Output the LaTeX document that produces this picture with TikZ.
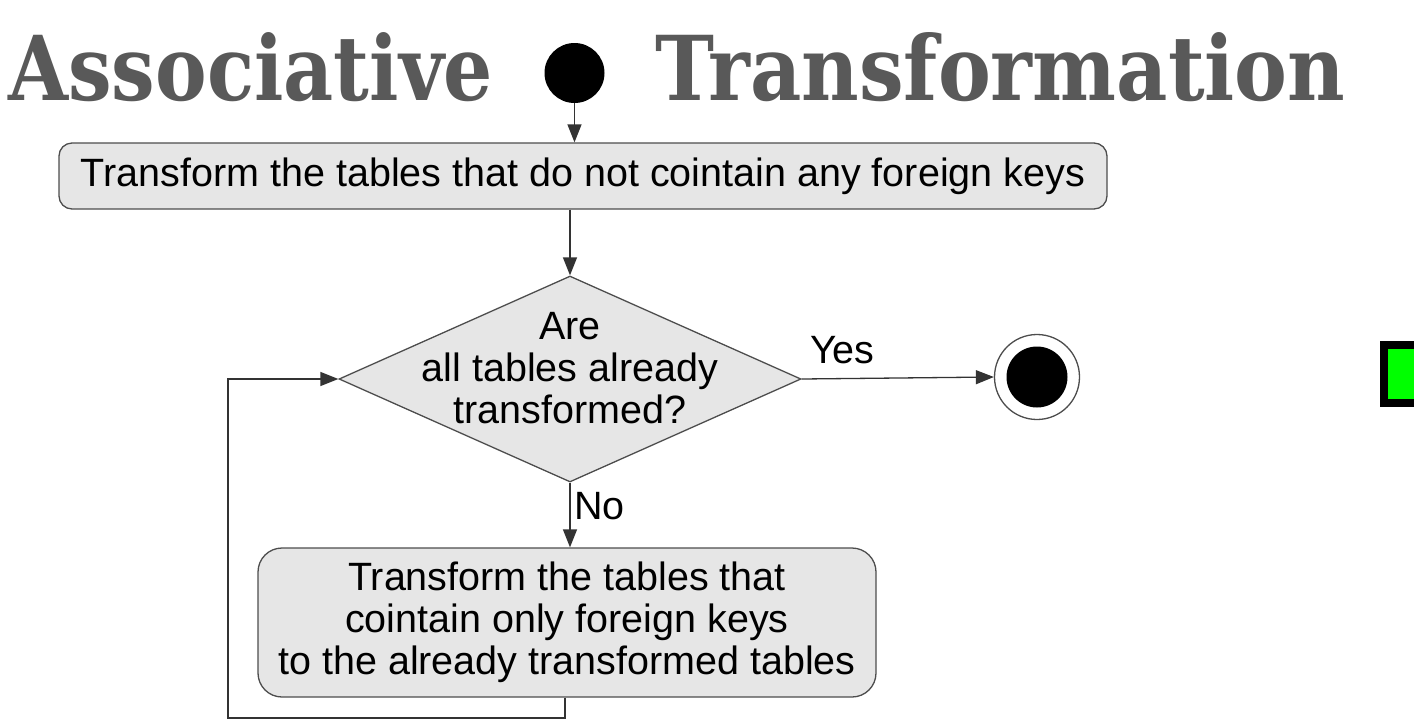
\documentclass[tikz,border=0pt]{standalone}
\usepackage{fontspec}
\setmainfont{Liberation Sans}
\newfontfamily\titlefont{DejaVu Serif}
\usetikzlibrary{shapes.geometric,arrows.meta}
\definecolor{boxfill}{HTML}{E6E6E6}
\definecolor{boxline}{HTML}{4D4D4D}
\definecolor{titlegray}{HTML}{595959}
\definecolor{brightgreen}{HTML}{00FF00}
\tikzset{
  actbox/.style={draw=boxline, fill=boxfill, line width=1.3pt, rounded corners=13pt, inner sep=0pt, align=center, font=\fontsize{39.5}{42}\selectfont},
  decbox/.style={draw=boxline, fill=boxfill, line width=1.3pt, diamond, inner sep=0pt, minimum width=462pt, minimum height=206pt},
  flow/.style={draw=black!80, line width=1.3pt, -{Triangle[length=18pt,width=14pt]}},
  lbl/.style={font=\fontsize{39.5}{42}\selectfont, inner sep=0pt},
  ttl/.style={text=titlegray, inner sep=0pt, anchor=base west}
}
\begin{document}
\begin{tikzpicture}[x=1pt,y=-1pt]
\useasboundingbox (0,0) rectangle (1414,724);
% title
\node[ttl] (t1) at (8,100) {\resizebox{485pt}{68pt}{\titlefont\bfseries\fontsize{92}{100}\selectfont Associative}};
\node[ttl] (t2) at (655,100) {\resizebox{690pt}{68pt}{\titlefont\bfseries\fontsize{92}{100}\selectfont Transformation}};
% start
\node[circle, fill=black, minimum size=60pt, inner sep=0pt] (start) at (574.5,73) {};
% top box
\node[actbox, minimum width=1048pt, minimum height=66pt] (a1) at (583,176) {Transform the tables that do not cointain any foreign keys};
% decision
\node[decbox] (d) at (570,379) {};
\node[align=center, inner sep=0pt, font=\fontsize{39.5}{42}\selectfont] (dtext) at (570,368) {Are\\all tables already\\transformed?};
% end
\node[circle, draw=boxline, line width=1.3pt, fill=white, minimum size=85pt, inner sep=0pt] (end) at (1037,377) {};
\node[circle, fill=black, minimum size=61pt, inner sep=0pt] (endin) at (1037,377) {};
% bottom box
\node[actbox, rounded corners=24pt, minimum width=618pt, minimum height=149pt] (a2) at (567,622.5) {Transform the tables that\\cointain only foreign keys\\to the already transformed tables};
% green square
\node[draw=black, fill=brightgreen, line width=8pt, minimum width=70pt, minimum height=58pt, inner sep=0pt, anchor=north west] (g) at (1380,341) {};
% connectors
\draw[flow] (start.south) -- (start.south |- a1.north);
\draw[flow] (a1.south -| d.north) -- (d.north);
\draw[flow] (d.east) -- (end.west);
\node[lbl, anchor=base west] (yes) at (810,363) {Yes};
\draw[flow] (d.south) -- (d.south |- a2.north);
\node[lbl, anchor=west] (no) at (574,506) {No};
\coordinate (c1) at (565,718);
\coordinate (c2) at (228,718);
\coordinate (c3) at (228,379);
\draw[flow] (a2.south -| c1) -- (c1) -- (c2) -- (c3) -- (d.west);
\end{tikzpicture}
\end{document}
